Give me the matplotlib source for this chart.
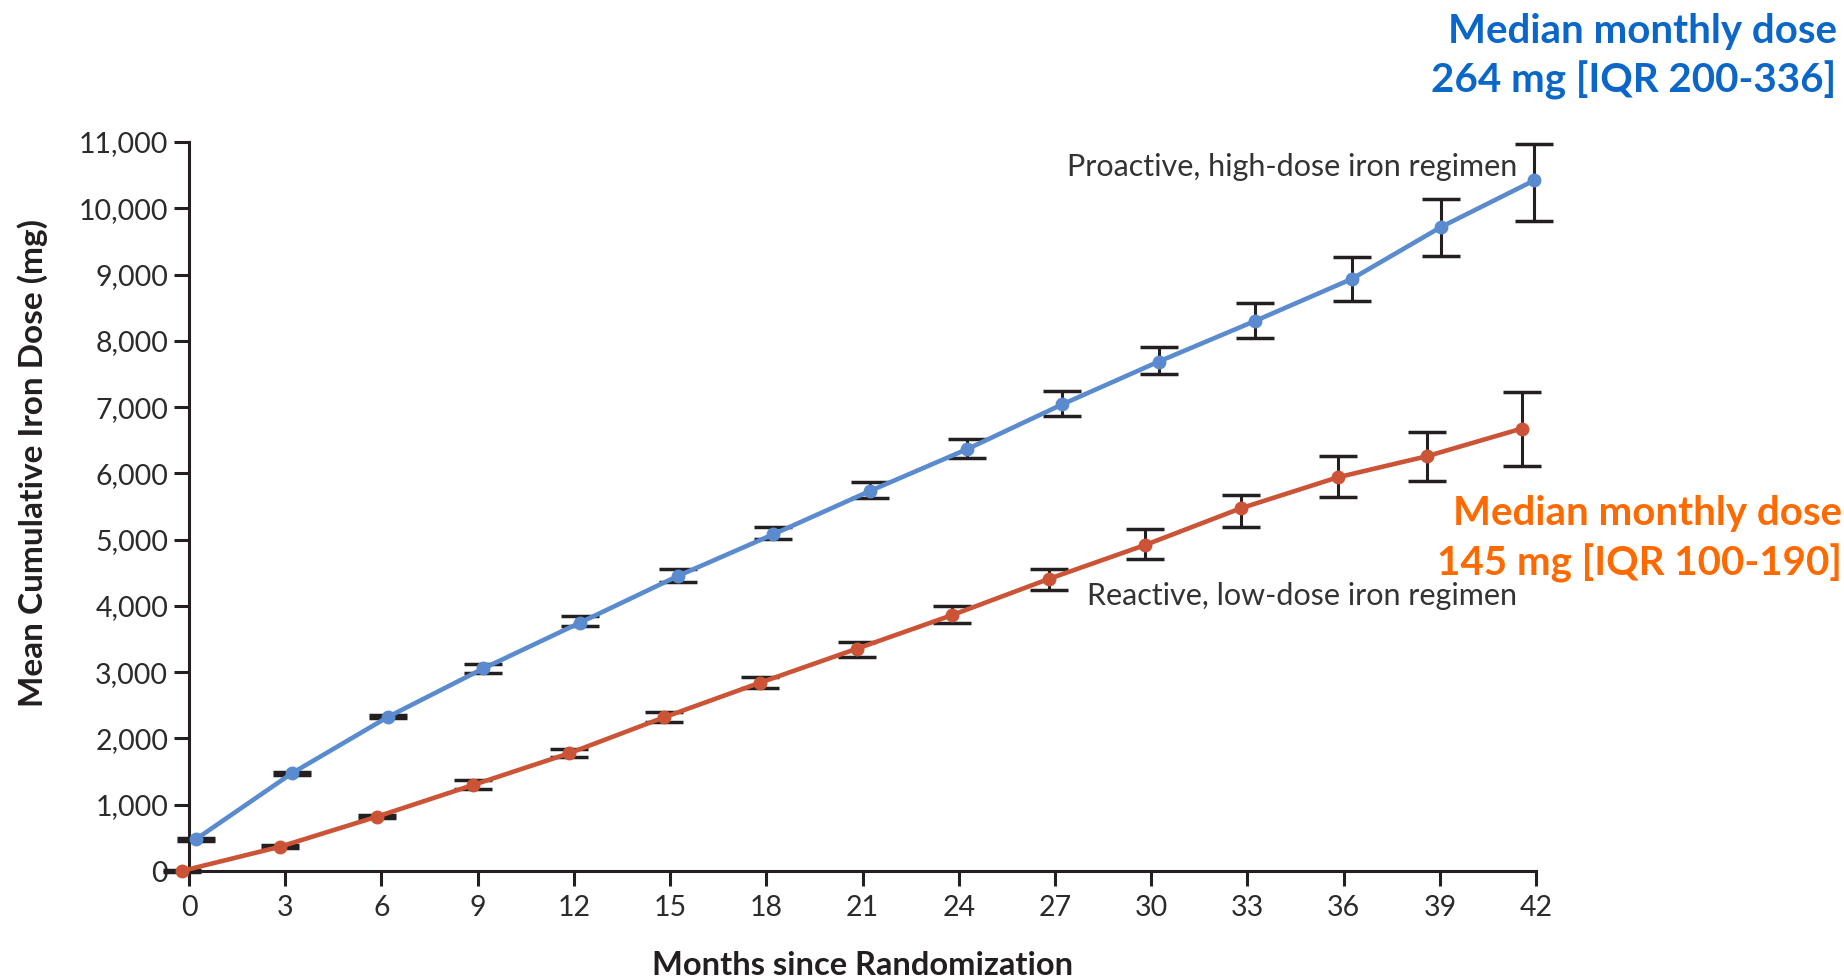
import numpy as np
import matplotlib.pyplot as plt

plt.rcParams['font.family'] = ['Lato', 'DejaVu Sans']

# proactive, high-dose arm: mean follow-up month, mean cumulative dose, 95% CI
months_hi = [0.21, 3.2, 6.21, 9.18, 12.19, 15.24, 18.22, 21.23, 24.25, 27.23, 30.23, 33.24, 36.25, 39.04, 41.94]
dose_hi = [478, 1473, 2327, 3057, 3747, 4451, 5081, 5734, 6363, 7042, 7686, 8300, 8933, 9718, 10420]
low_hi = [458, 1453, 2307, 2993, 3697, 4366, 5005, 5628, 6228, 6870, 7495, 8048, 8606, 9281, 9804]
high_hi = [498, 1493, 2347, 3119, 3852, 4557, 5195, 5865, 6514, 7243, 7902, 8566, 9270, 10136, 10975]

# reactive, low-dose arm
months_lo = [-0.23, 2.84, 5.85, 8.85, 11.85, 14.81, 17.80, 20.82, 23.80, 26.80, 29.81, 32.79, 35.82, 38.60, 41.56]
dose_lo = [0, 367, 819, 1297, 1776, 2319, 2841, 3354, 3863, 4406, 4919, 5473, 5941, 6259, 6677]
low_lo = [-20, 347, 799, 1237, 1725, 2244, 2757, 3234, 3747, 4240, 4708, 5195, 5648, 5887, 6113]
high_lo = [20, 387, 839, 1373, 1836, 2395, 2932, 3460, 3999, 4557, 5156, 5674, 6267, 6626, 7229]

x_ticks = list(range(0, 43, 3))
y_ticks = list(range(0, 11001, 1000))

blue = '#5b8bcf'
red = '#cc5436'
ink = '#231f20'

fig = plt.figure(figsize=(18.44, 9.8), dpi=100)
ax = fig.add_axes([0.1025, 0.1112, 0.7305, 0.7439])

for m, d, lo, hi, c in [(months_hi, dose_hi, low_hi, high_hi, blue),
                        (months_lo, dose_lo, low_lo, high_lo, red)]:
    d = np.array(d)
    err = [d - np.array(lo), np.array(hi) - d]
    ax.errorbar(m, d, yerr=err, fmt='none', ecolor=ink, elinewidth=2.2,
                capsize=13.5, capthick=2.5, clip_on=False, zorder=2)
    ax.plot(m, d, color=c, lw=3.3, marker='o', ms=9, clip_on=False, zorder=3)

ax.set_xlim(0, 42)
ax.set_ylim(0, 11000)
ax.set_xticks(x_ticks)
ax.set_yticks(y_ticks)
ax.set_yticklabels(['0'] + ['{:,}'.format(v) for v in y_ticks[1:]])

for s in ['top', 'right']:
    ax.spines[s].set_visible(False)
for s in ['left', 'bottom']:
    ax.spines[s].set_linewidth(2.2)
    ax.spines[s].set_color(ink)
ax.tick_params(direction='out', length=11, width=2.2, color=ink,
               labelsize=20.5, labelcolor='#2b2b2b')
ax.tick_params(axis='x', pad=6)
ax.tick_params(axis='y', pad=4)

ax.set_xlabel('Months since Randomization', fontsize=23.5, fontweight='bold',
              color=ink, labelpad=22)
ax.set_ylabel('Mean Cumulative Iron Dose (mg)', fontsize=24, fontweight='bold',
              color=ink, labelpad=22)
ax.yaxis.label.set_y(0.56)

ax.text(41.4, 10620, 'Proactive, high-dose iron regimen', fontsize=22,
        color='#333333', ha='right', va='center')
ax.text(41.4, 4150, 'Reactive, low-dose iron regimen', fontsize=22,
        color='#333333', ha='right', va='center')

fig.text(0.996, 0.942, 'Median monthly dose\n264 mg [IQR 200-336]', fontsize=29,
         fontweight='bold', color='#0a66c8', ha='right', va='center',
         linespacing=1.33)
fig.text(0.999, 0.450, 'Median monthly dose\n145 mg [IQR 100-190]', fontsize=29,
         fontweight='bold', color='#ff6a00', ha='right', va='center',
         linespacing=1.38)

fig.savefig('out.png', dpi=100, facecolor='white')
